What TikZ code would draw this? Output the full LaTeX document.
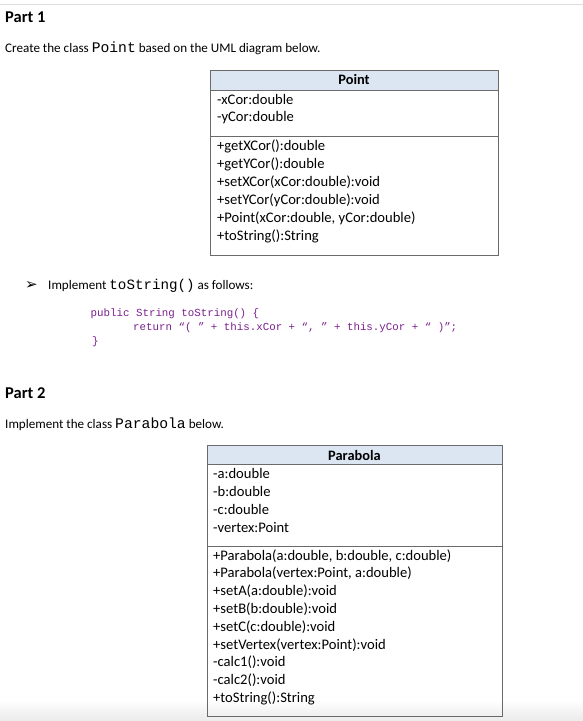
\documentclass[tikz,border=0pt]{standalone}
\usepackage{fontspec}
\setmainfont{Carlito}
\newfontfamily\cour{Liberation Mono}
\newfontfamily\djv{DejaVu Sans}
\definecolor{hdr}{HTML}{DCE6F2}
\definecolor{bordergray}{HTML}{6A6A6A}
\definecolor{codepurple}{HTML}{7A1F8E}
\begin{document}
\begin{tikzpicture}[x=1pt,y=-1pt,
  txt/.style={anchor=base west,inner sep=0pt,font=\fontsize{13.1}{16}\selectfont},
  boxtxt/.style={anchor=base west,inner sep=0pt,font=\fontsize{14.6}{16}\selectfont},
  hdrtxt/.style={anchor=base,inner sep=0pt,font=\fontsize{14.4}{16}\selectfont\bfseries},
  parttxt/.style={anchor=base west,inner sep=0pt,font=\fontsize{16.5}{20}\selectfont\bfseries},
  codetxt/.style={anchor=base west,inner sep=0pt,text=codepurple,font=\fontsize{10.8}{12}\selectfont\cour},
  umlbox/.style={draw=bordergray,line width=1pt},
  umlhdr/.style={draw=bordergray,line width=1pt,fill=hdr}]
\useasboundingbox (0,0) rectangle (583,721);
\shade[top color=white,bottom color=black!8] (0,700) rectangle (583,721);
\draw[black!13,line width=1pt] (0,4) -- (583,4);

% Part 1
\node[parttxt] (p1) at (5,22.7) {Part 1};
\node[txt] (t1) at (5,52.5) {Create the class {\cour\fontsize{14.7}{16}\selectfont Point} based on the UML diagram below.};

% Point box
\draw[umlhdr] (210,70) rectangle (498,90);
\draw[umlbox] (210,90) rectangle (498,136);
\draw[umlbox] (210,136) rectangle (498,255);
\node[hdrtxt] (ph) at (354,84.3) {Point};
\node[boxtxt] (pa1) at (217,104) {-xCor:double};
\node[boxtxt] (pa2) at (217,121.7) {-yCor:double};
\node[boxtxt] (pm1) at (217,150.5) {+getXCor():double};
\node[boxtxt] (pm2) at (217,168.5) {+getYCor():double};
\node[boxtxt] (pm3) at (217,186.5) {+setXCor(xCor:double):void};
\node[boxtxt] (pm4) at (217,204.5) {+setYCor(yCor:double):void};
\node[boxtxt] (pm5) at (217,222.5) {+Point(xCor:double, yCor:double)};
\node[boxtxt] (pm6) at (217,240.5) {+toString():String};

% Implement toString
\node[anchor=base west,inner sep=0pt,font=\djv\fontsize{15}{16}\selectfont] (arr) at (25,289.5) {➢};
\node[txt] (t2) at (48,289) {Implement {\cour\fontsize{14.2}{16}\selectfont toString()} as follows:};
\node[codetxt] (c1) at (90.5,316) {public String toString() \{};
\node[codetxt] (c2) at (133,330) {return “( ” + this.xCor + “, ” + this.yCor + “ )”;};
\node[codetxt] (c3) at (92,344) {\}};

% Part 2
\node[parttxt] (p2) at (5,398) {Part 2};
\node[txt] (t3) at (5,428) {Implement the class {\cour\fontsize{14.7}{16}\selectfont Parabola} below.};

% Parabola box
\draw[umlhdr] (207,445) rectangle (502,464);
\draw[umlbox] (207,464) rectangle (502,546);
\draw[umlbox] (207,546) rectangle (502,716);
\node[hdrtxt] (qh) at (354.5,460.7) {Parabola};
\node[boxtxt] (qa1) at (213,478.3) {-a:double};
\node[boxtxt] (qa2) at (213,496.3) {-b:double};
\node[boxtxt] (qa3) at (213,514.3) {-c:double};
\node[boxtxt] (qa4) at (213,532.3) {-vertex:Point};
\node[boxtxt] (qm1) at (213,560) {+Parabola(a:double, b:double, c:double)};
\node[boxtxt] (qm2) at (213,577.8) {+Parabola(vertex:Point, a:double)};
\node[boxtxt] (qm3) at (213,595.6) {+setA(a:double):void};
\node[boxtxt] (qm4) at (213,613.4) {+setB(b:double):void};
\node[boxtxt] (qm5) at (213,631.2) {+setC(c:double):void};
\node[boxtxt] (qm6) at (213,649.0) {+setVertex(vertex:Point):void};
\node[boxtxt] (qm7) at (213,666.8) {-calc1():void};
\node[boxtxt] (qm8) at (213,684.6) {-calc2():void};
\node[boxtxt] (qm9) at (213,702.4) {+toString():String};
\end{tikzpicture}
\end{document}
